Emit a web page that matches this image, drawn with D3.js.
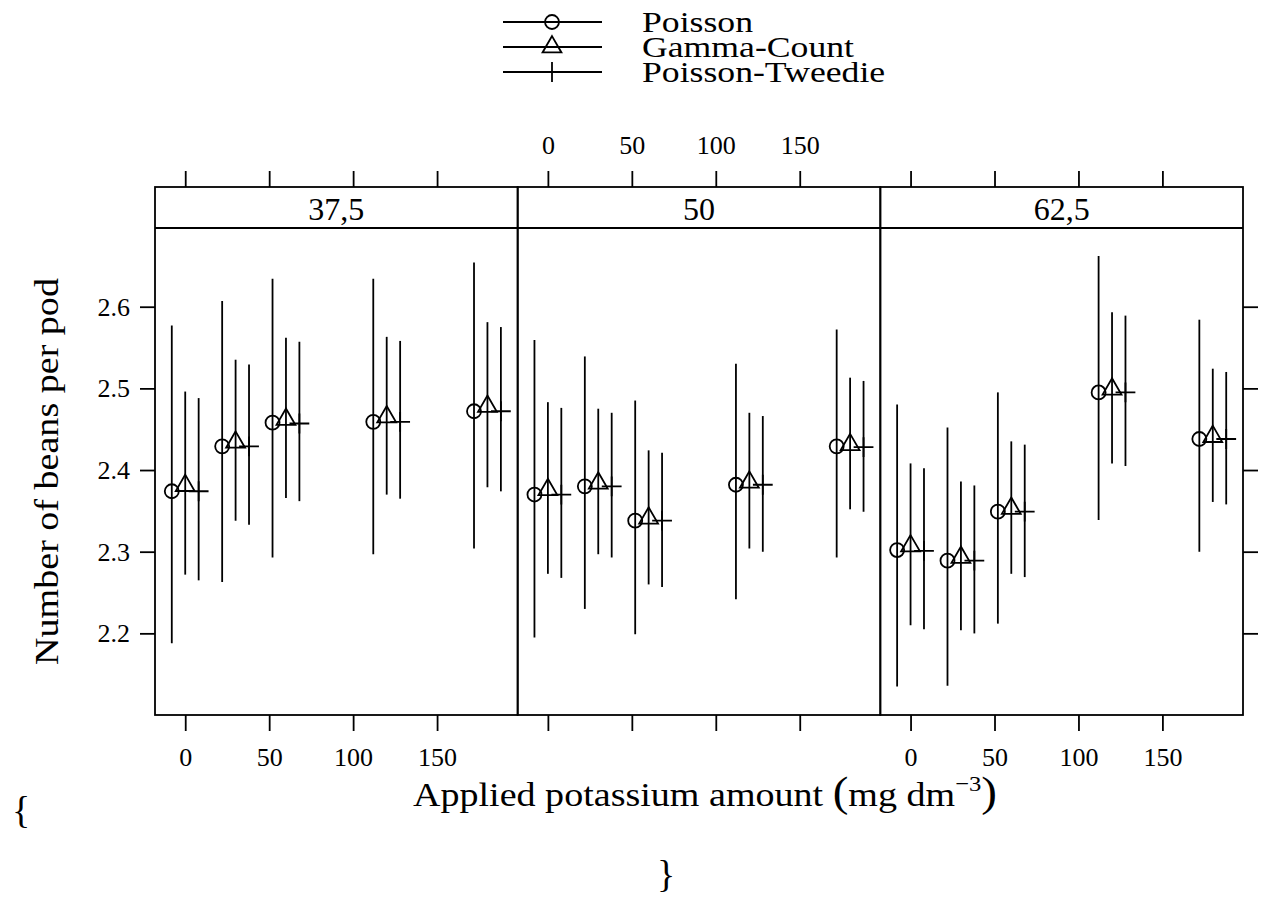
<!DOCTYPE html>
<html>
<head>
<meta charset="utf-8">
<script src="https://cdn.jsdelivr.net/npm/d3@7"></script>
<style>
  body { margin: 0; background: #fff; }
  text { font-family: "Liberation Serif", "Times New Roman", serif; fill: #000; }
</style>
</head>
<body>
<svg id="chart" width="1265" height="917"></svg>
<script>
const doses = [0, 30, 60, 120, 180];
const panels = ["37,5", "50", "62,5"];
const models = ["Poisson", "Gamma-Count", "Poisson-Tweedie"];
const xTicks = [0, 50, 100, 150];
const yTicks = [2.2, 2.3, 2.4, 2.5, 2.6];

// one row per panel, one value per dose
const poissonFit = [[2.374, 2.429, 2.458, 2.459, 2.472], [2.370, 2.380, 2.338, 2.382, 2.429], [2.302, 2.289, 2.349, 2.495, 2.438]];
const poissonLwr = [[2.189, 2.264, 2.294, 2.298, 2.305], [2.196, 2.231, 2.200, 2.243, 2.294], [2.136, 2.137, 2.213, 2.340, 2.301]];
const poissonUpr = [[2.576, 2.606, 2.633, 2.633, 2.653], [2.558, 2.538, 2.484, 2.529, 2.571], [2.479, 2.451, 2.494, 2.661, 2.583]];
const gammaFit = [[2.381, 2.434, 2.462, 2.465, 2.478], [2.376, 2.384, 2.341, 2.385, 2.431], [2.307, 2.293, 2.353, 2.499, 2.441]];
const gammaLwr = [[2.273, 2.339, 2.367, 2.371, 2.380], [2.274, 2.298, 2.261, 2.305, 2.353], [2.211, 2.205, 2.274, 2.409, 2.362]];
const gammaUpr = [[2.495, 2.534, 2.561, 2.562, 2.580], [2.482, 2.474, 2.423, 2.469, 2.512], [2.407, 2.385, 2.434, 2.592, 2.523]];
const tweedieFit = [[2.374, 2.429, 2.457, 2.459, 2.472], [2.370, 2.380, 2.338, 2.382, 2.428], [2.301, 2.289, 2.349, 2.495, 2.438]];
const tweedieLwr = [[2.266, 2.334, 2.363, 2.366, 2.375], [2.269, 2.294, 2.258, 2.301, 2.350], [2.206, 2.201, 2.270, 2.406, 2.359]];
const tweedieUpr = [[2.487, 2.528, 2.556, 2.557, 2.574], [2.475, 2.469, 2.420, 2.465, 2.508], [2.401, 2.380, 2.430, 2.588, 2.519]];

const offsets = [-8, 0, 8];
const plotLeft = 155, plotRight = 1243;
const stripTop = 187, panelTop = 228, panelBottom = 715;
const panelW = (plotRight - plotLeft) / panels.length;
const lw = 1.8;

const svg = d3.select("#chart");

const y = d3.scaleLinear().domain([2.1, 2.6964]).range([panelBottom, panelTop]);

// R-like symbols
const rad = 7;
function drawSymbol(g, kind, cx, cy) {
    if (kind === 0) {
        g.append("circle").attr("cx", cx).attr("cy", cy).attr("r", rad)
            .attr("fill", "none").attr("stroke", "black").attr("stroke-width", lw);
    } else if (kind === 1) {
        const r = 1.555 * rad, yc = 0.778 * rad, xc = 1.347 * rad;
        g.append("path")
            .attr("d", `M${cx},${cy - r}L${cx + xc},${cy + yc}L${cx - xc},${cy + yc}Z`)
            .attr("fill", "none").attr("stroke", "black").attr("stroke-width", lw);
    } else {
        const s = 1.414 * rad;
        g.append("path")
            .attr("d", `M${cx - s},${cy}H${cx + s}M${cx},${cy - s}V${cy + s}`)
            .attr("fill", "none").attr("stroke", "black").attr("stroke-width", lw);
    }
}

const fits = [poissonFit, gammaFit, tweedieFit];
const lwrs = [poissonLwr, gammaLwr, tweedieLwr];
const uprs = [poissonUpr, gammaUpr, tweedieUpr];

panels.forEach((lab, p) => {
    const x0 = plotLeft + p * panelW;
    const x = d3.scaleLinear().domain([-18, 198]).range([x0, x0 + panelW]);
    const g = svg.append("g");

    // bottom axis: ticks always, labels on panels 1 and 3
    const bottom = d3.axisBottom(x).tickValues(xTicks).tickSize(16).tickPadding(17)
        .tickFormat(p === 1 ? "" : d3.format("d"));
    const ab = g.append("g").attr("transform", `translate(0,${panelBottom})`).call(bottom);
    // top axis: labels only on the middle panel
    const top = d3.axisTop(x).tickValues(xTicks).tickSize(16).tickPadding(17)
        .tickFormat(p === 1 ? d3.format("d") : "");
    const at = g.append("g").attr("transform", `translate(0,${stripTop})`).call(top);
    [ab, at].forEach(a => {
        a.select(".domain").remove();
        a.selectAll("line").attr("stroke-width", lw);
        a.selectAll("text").style("font-size", "26px").attr("font-family", null);
    });

    // intervals and points
    models.forEach((m, k) => {
        doses.forEach((d, i) => {
            const cx = x(d + offsets[k]);
            g.append("line")
                .attr("x1", cx).attr("x2", cx)
                .attr("y1", y(lwrs[k][p][i])).attr("y2", y(uprs[k][p][i]))
                .attr("stroke", "black").attr("stroke-width", lw).attr("stroke-linecap", "square");
            drawSymbol(g, k, cx, y(fits[k][p][i]));
        });
    });

    // panel frame and strip
    g.append("rect").attr("x", x0).attr("y", stripTop).attr("width", panelW).attr("height", panelBottom - stripTop)
        .attr("fill", "none").attr("stroke", "black").attr("stroke-width", lw);
    g.append("line").attr("x1", x0).attr("x2", x0 + panelW).attr("y1", panelTop).attr("y2", panelTop)
        .attr("stroke", "black").attr("stroke-width", lw);
    g.append("text").attr("x", x0 + panelW / 2).attr("y", (stripTop + panelTop) / 2 + 1)
        .attr("text-anchor", "middle").attr("dominant-baseline", "central")
        .style("font-size", "32px").text(lab);
});

// y axis left (labels) and right (ticks only)
const left = d3.axisLeft(y).tickValues(yTicks).tickSize(15).tickPadding(10).tickFormat(d3.format(".1f"));
const al = svg.append("g").attr("transform", `translate(${plotLeft},0)`).call(left);
const right = d3.axisRight(y).tickValues(yTicks).tickSize(15).tickFormat("");
const ar = svg.append("g").attr("transform", `translate(${plotRight},0)`).call(right);
[al, ar].forEach(a => {
    a.select(".domain").remove();
    a.selectAll("line").attr("stroke-width", lw);
    a.selectAll("text").style("font-size", "26px").attr("font-family", null);
});

// axis titles (the original font is wider than Liberation, so stretch a little)
svg.append("text")
    .attr("transform", `translate(47,${(panelTop + panelBottom) / 2}) rotate(-90) scale(1.12,1)`)
    .attr("text-anchor", "middle").attr("dominant-baseline", "central")
    .style("font-size", "34px").text("Number of beans per pod");

const xt = svg.append("text").attr("transform", "translate(705,806) scale(1.12,1)")
    .attr("text-anchor", "middle").style("font-size", "34px");
xt.append("tspan").text("Applied potassium amount ");
xt.append("tspan").style("font-size", "42px").text("(");
xt.append("tspan").text("mg dm");
xt.append("tspan").attr("dy", -15).style("font-size", "22px").text("−3");
xt.append("tspan").attr("dy", 15).style("font-size", "42px").text(")");

svg.append("text").attr("x", 12).attr("y", 823).style("font-size", "38px").text("{");
svg.append("text").attr("x", 657).attr("y", 887).style("font-size", "38px").text("}");

// legend
const legY = [22, 47, 72];
models.forEach((m, k) => {
    const lg = svg.append("g");
    lg.append("line").attr("x1", 503).attr("x2", 602).attr("y1", legY[k]).attr("y2", legY[k])
        .attr("stroke", "black").attr("stroke-width", lw);
    drawSymbol(lg, k, 552, legY[k]);
    lg.append("text").attr("transform", `translate(642,${legY[k]}) scale(1.23,1)`)
        .attr("dominant-baseline", "central")
        .style("font-size", "29px").text(m);
});
</script>
</body>
</html>
